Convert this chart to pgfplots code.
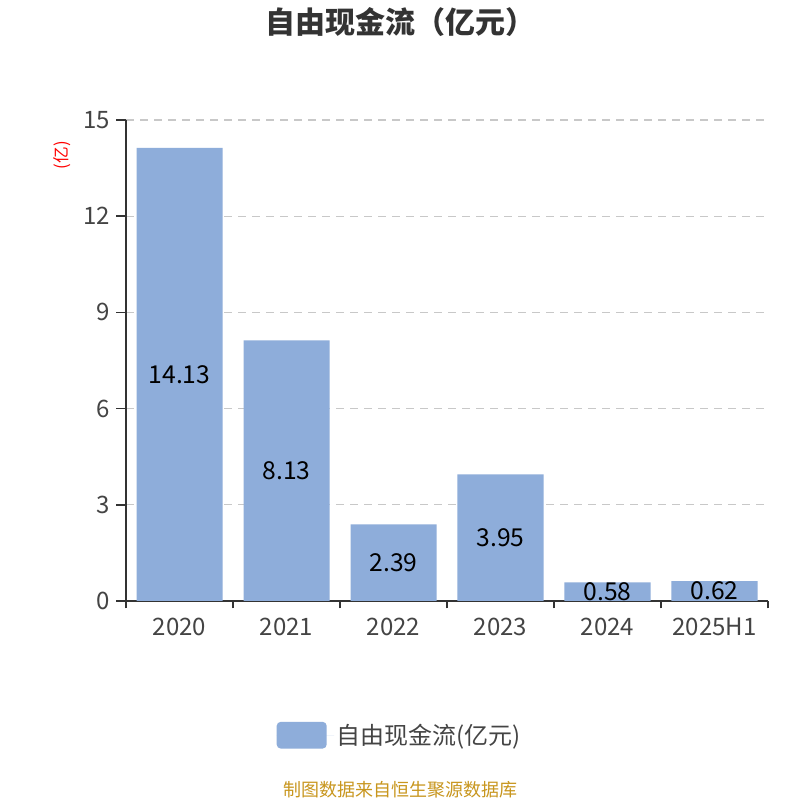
\documentclass[border=0pt]{standalone}
\usepackage{pgfplots}
\pgfplotsset{compat=1.18}
\usepackage{pgfplotstable}
\usepackage{fontspec}
\setmainfont{Noto Sans CJK SC}
\definecolor{barblue}{HTML}{8EADDA}
\definecolor{axisgray}{HTML}{333333}
\definecolor{txtgray}{HTML}{444444}
\definecolor{gridgray}{HTML}{C8C8C8}
\definecolor{footgold}{HTML}{C8961E}

\pgfplotstableread{
x  y      lab
0  14.13  14.13
1  8.13   8.13
2  2.39   2.39
3  3.95   3.95
4  0.58   0.58
5  0.62   0.62
}\fcf

\begin{document}
\begin{tikzpicture}[x=0.75pt,y=0.75pt]
\path[use as bounding box,fill=white] (0,0) rectangle (800,800);
\begin{axis}[
    at={(94.5pt,149.25pt)}, anchor=south west,
    scale only axis,
    width=481.5pt, height=360.75pt,
    xmin=-0.5, xmax=5.5,
    ymin=0, ymax=15,
    axis x line*=bottom, axis y line*=left,
    axis line style={axisgray, line width=1.2pt},
    xtick={0,1,2,3,4,5},
    xticklabels={2020,2021,2022,2023,2024,2025H1},
    major x tick style={draw=none},
    minor xtick={-0.5,0.5,1.5,2.5,3.5,4.5,5.5},
    minor x tick style={axisgray, line width=1.2pt},
    minor tick length=5.5pt,
    ytick={0,3,6,9,12,15},
    major y tick style={axisgray, line width=1.2pt},
    major tick length=7.5pt,
    tick align=outside,
    /pgf/number format/assume math mode=true,
    ymajorgrids=true,
    grid style={gridgray, line width=0.9pt, dash pattern=on 6pt off 4.5pt},
    tick label style={font=\fontsize{18}{21}\selectfont, text=txtgray},
    xticklabel style={yshift=-2pt},
    yticklabel style={xshift=-1pt},
    ylabel={(亿)},
    every axis y label/.style={at={(rel axis cs:0,0.927)}, anchor=center,
        xshift=-48pt, rotate=90, text=red, font=\fontsize{12.5}{14}\selectfont},
    legend style={draw=none, at={(0.427,-0.279)}, anchor=center,
        font=\fontsize{18}{21}\selectfont, text=txtgray},
    legend image code/.code={
        \fill[barblue, rounded corners=3pt] (0pt,-10pt) rectangle (37.5pt,10pt);
        \path (0pt,0pt) -- (43pt,0pt);},
    legend cell align=left,
]
\addplot[ybar, bar width=64.5pt, fill=barblue, draw=none] table[x=x, y=y] {\fcf};
\addlegendentry{自由现金流(亿元)}
\addplot[draw=none, mark=none, nodes near coords, point meta=explicit symbolic,
    nodes near coords style={anchor=center, font=\fontsize{18.5}{21}\selectfont, text=black}]
    table[x=x, y expr=\thisrow{y}/2, meta=lab] {\fcf};
\end{axis}
\node[font=\fontsize{22.5}{26}\selectfont\bfseries, text=axisgray] at (400,778) {自由现金流（亿元）};
\node[font=\fontsize{13.5}{16}\selectfont, text=footgold] at (400,10) {制图数据来自恒生聚源数据库};
\end{tikzpicture}
\end{document}
